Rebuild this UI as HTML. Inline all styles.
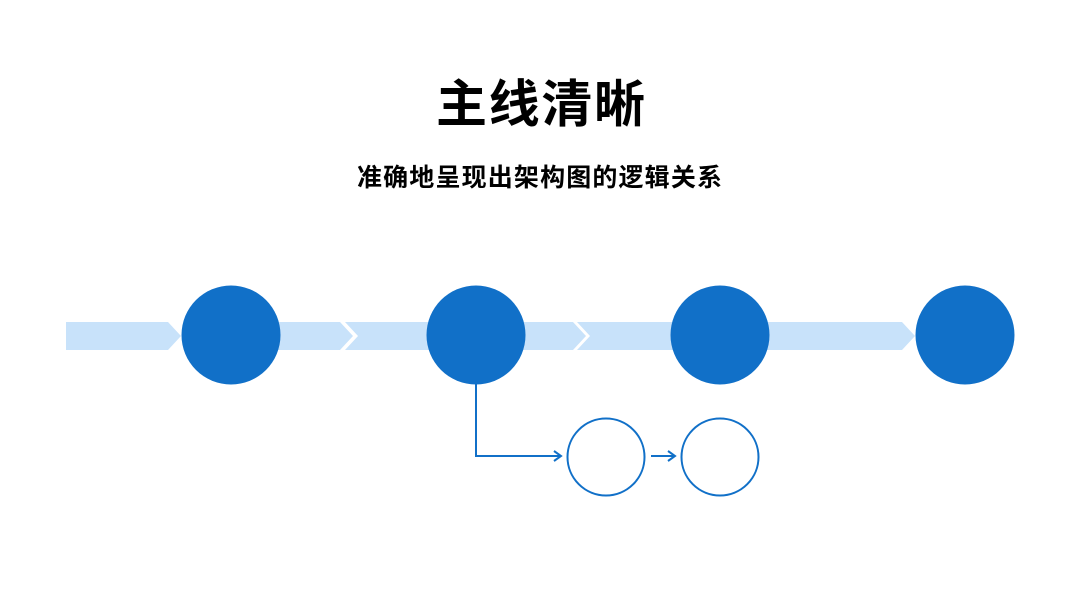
<!DOCTYPE html>
<html><head><meta charset="utf-8"><style>
html,body{margin:0;padding:0;background:#fff;}
svg{display:block}
text{font-family:"Liberation Sans","Noto Sans CJK SC",sans-serif;font-weight:700;fill:#000}
</style></head><body>
<svg width="1080" height="608" viewBox="0 0 1080 608" xmlns="http://www.w3.org/2000/svg">
<text x="436" y="122" font-size="51" textLength="209" lengthAdjust="spacing">主线清晰</text>
<text x="357" y="186" font-size="25" textLength="365" lengthAdjust="spacing">准确地呈现出架构图的逻辑关系</text>
<g fill="#c8e2fa">
<polygon points="66,322 168,322 181,336 168,350 66,350"/>
<polygon points="250,322 340,322 353,336 340,350 250,350"/>
<polygon points="345,322 573,322 586,336 573,350 345,350 358,336"/>
<polygon points="577,322 902,322 915,336 902,350 577,350 590,336"/>
</g>
<g fill="#1170c8">
<circle cx="231" cy="335" r="49.5"/>
<circle cx="476" cy="335" r="49.5"/>
<circle cx="720" cy="335" r="49.5"/>
<circle cx="965" cy="335" r="49.5"/>
</g>
<g fill="none" stroke="#1170c8" stroke-width="2">
<polyline points="476,384 476,456 561,456"/>
<polyline points="554,451 561,456 554,461"/>
<line x1="651" y1="456" x2="675" y2="456"/>
<polyline points="668,451 675,456 668,461"/>
<circle cx="606" cy="457" r="38.5"/>
<circle cx="720" cy="457" r="38.5"/>
</g>
</svg>
</body></html>
